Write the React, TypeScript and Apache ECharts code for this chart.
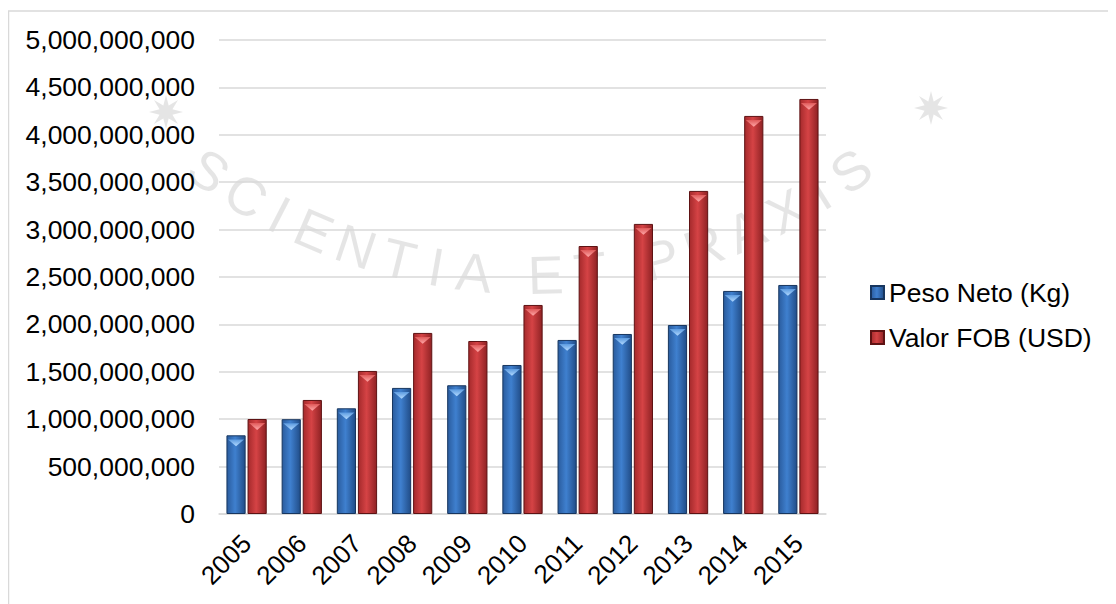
import React, { useEffect, useRef } from "react";
import * as echarts from "echarts";

const categories = ["2005", "2006", "2007", "2008", "2009", "2010", "2011", "2012", "2013", "2014", "2015"];
const pesoNeto = [830e6, 1000e6, 1115e6, 1330e6, 1358e6, 1572e6, 1836e6, 1899e6, 1994e6, 2353e6, 2416e6];
const valorFob = [1002e6, 1203e6, 1509e6, 1910e6, 1825e6, 2205e6, 2827e6, 3060e6, 3408e6, 4199e6, 4378e6];
const seriesNames = ["Peso Neto (Kg)", "Valor FOB (USD)"];
const yMax = 5000000000;
const yInterval = 500000000;

const FONT = "'Liberation Sans', Arial, sans-serif";

function starPoints(cx: number, cy: number, ro: number, ri: number, n: number) {
  const pts: number[][] = [];
  for (let i = 0; i < n * 2; i++) {
    const r = i % 2 === 0 ? ro : ri;
    const a = (Math.PI * i) / n - Math.PI / 2;
    pts.push([cx + r * Math.cos(a), cy + r * Math.sin(a)]);
  }
  return pts;
}

function watermark() {
  const els: any[] = [];
  const word = "SCIENTIA ET PRAXIS";
  const cx = 530 - 8;
  const cy = -271 - 8;
  const R = 546;
  const slots = word.split("").map((c) => (c === " " ? 0.6 : c === "I" ? 0.7 : 1));
  const total = slots.reduce((a, b) => a + b, 0) - (slots[0] + slots[slots.length - 1]) / 2;
  let acc = 0;
  for (let i = 0; i < word.length; i++) {
    const ch = word[i];
    if (i > 0) acc += (slots[i - 1] + slots[i]) / 2;
    if (ch === " ") continue;
    const deg = -36 + (72 * acc) / total;
    const t = (deg * Math.PI) / 180;
    els.push({
      type: "text",
      x: cx + R * Math.sin(t),
      y: cy + R * Math.cos(t),
      rotation: t,
      z: -10,
      silent: true,
      style: {
        text: ch,
        fill: "rgba(0,0,0,0.1)",
        fontSize: 54,
        fontFamily: FONT,
        align: "center",
        verticalAlign: "middle",
      },
    });
  }
  els.push({
    type: "polygon",
    z: -10,
    silent: true,
    shape: { points: starPoints(158, 104, 17, 7, 8) },
    style: { fill: "rgba(0,0,0,0.1)" },
  });
  els.push({
    type: "polygon",
    z: -10,
    silent: true,
    shape: { points: starPoints(923, 100, 17, 7, 8) },
    style: { fill: "rgba(0,0,0,0.1)" },
  });
  els.push({
    type: "rect",
    z: -5,
    silent: true,
    shape: { x: 0.5, y: 3, width: 1300, height: 800 },
    style: { fill: "none", stroke: "#d9d9d9", lineWidth: 1.5 },
  });
  return els;
}

const blueGrad = new echarts.graphic.LinearGradient(0, 0, 1, 0, [
  { offset: 0, color: "#2a5c9e" },
  { offset: 0.45, color: "#3f80cf" },
  { offset: 1, color: "#214d88" },
]);
const redGrad = new echarts.graphic.LinearGradient(0, 0, 1, 0, [
  { offset: 0, color: "#a52a2c" },
  { offset: 0.45, color: "#d54345" },
  { offset: 1, color: "#8f2224" },
]);
const blueTri = new echarts.graphic.LinearGradient(0, 0, 0, 1, [
  { offset: 0, color: "#b3daff" },
  { offset: 1, color: "#5c9be0" },
]);
const redTri = new echarts.graphic.LinearGradient(0, 0, 0, 1, [
  { offset: 0, color: "#ffa8a8" },
  { offset: 1, color: "#e05a5a" },
]);

export default function App() {
  const ref = useRef<HTMLDivElement>(null);
  useEffect(() => {
    if (!ref.current) return;
    const chart = echarts.init(ref.current, null, { renderer: "svg" });
    const barCommon = {
      barGap: "10%",
      barCategoryGap: "27%",
    };
    chart.setOption({
      animation: false,
      backgroundColor: "#ffffff",
      textStyle: { fontFamily: FONT },
      graphic: { elements: watermark() },
      grid: { left: 211, right: 290, top: 32, bottom: 90, containLabel: false },
      legend: {
        data: seriesNames,
        orient: "vertical",
        left: 857,
        top: 266,
        itemWidth: 13,
        itemHeight: 13,
        itemGap: 18,
        icon: "rect",
        textStyle: { fontSize: 26.5, color: "#000000", fontFamily: FONT },
      },
      xAxis: {
        type: "category",
        data: categories,
        axisLine: { show: true, lineStyle: { color: "#d9d9d9", width: 1.5 } },
        axisTick: { show: false },
        axisLabel: { rotate: 45, fontSize: 26, color: "#000000", margin: 25, fontFamily: FONT },
      },
      yAxis: {
        type: "value",
        min: 0,
        max: yMax,
        interval: yInterval,
        axisLine: { show: false },
        axisTick: { show: false },
        splitLine: { lineStyle: { color: "#d9d9d9", width: 1.5 } },
        axisLabel: {
          fontSize: 26.5,
          color: "#000000",
          margin: 24,
          fontFamily: FONT,
          formatter: (v: number) => v.toLocaleString("en-US"),
        },
      },
      series: [
        {
          name: seriesNames[0],
          type: "bar",
          data: pesoNeto,
          ...barCommon,
          itemStyle: { color: blueGrad, borderColor: "#17365f", borderWidth: 1 },
        },
        {
          name: seriesNames[1],
          type: "bar",
          data: valorFob,
          ...barCommon,
          itemStyle: { color: redGrad, borderColor: "#5e1213", borderWidth: 1 },
        },
        {
          name: "bevel1",
          type: "pictorialBar",
          data: pesoNeto,
          ...barCommon,
          symbol: "triangle",
          symbolRotate: 180,
          symbolPosition: "end",
          symbolSize: [16, 7],
          symbolOffset: [0, 4],
          z: 5,
          itemStyle: { color: blueTri },
        },
        {
          name: "bevel2",
          type: "pictorialBar",
          data: valorFob,
          ...barCommon,
          symbol: "triangle",
          symbolRotate: 180,
          symbolPosition: "end",
          symbolSize: [16, 7],
          symbolOffset: [0, 4],
          z: 5,
          itemStyle: { color: redTri },
        },
      ],
    });
    return () => chart.dispose();
  }, []);
  return <div ref={ref} style={{ width: 1108, height: 596 }} />;
}
